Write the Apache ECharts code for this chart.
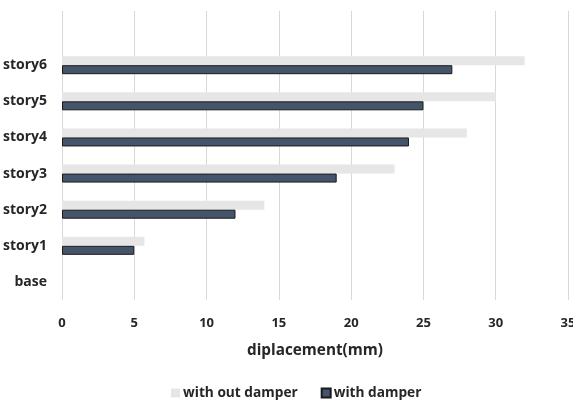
<!DOCTYPE html>
<html>
<head>
<meta charset="utf-8">
<script src="https://cdn.jsdelivr.net/npm/echarts@6/dist/echarts.min.js"></script>
<style>html,body{margin:0;padding:0;background:#fff}#c{width:573px;height:401px}</style>
</head>
<body>
<div id="c"></div>
<script>
var categories = ['base', 'story1', 'story2', 'story3', 'story4', 'story5', 'story6', ''];
var withOutDamper = [0, 5.7, 14, 23, 28, 30, 32, null];
var withDamper = [0, 5, 12, 19, 24, 25, 27, null];
var xTicks = [0, 5, 10, 15, 20, 25, 30, 35];

var font = 'Open Sans';
var txt = '#262626';
function hideZeroBorder(arr) {
  return arr.map(function (v) { return v === 0 ? {value: v, itemStyle: {borderWidth: 0}} : v; });
}
var chart = echarts.init(document.getElementById('c'), null, {renderer: 'canvas'});
chart.setOption({
  animation: false,
  grid: {left: 62, right: 5, top: 11, bottom: 101, containLabel: false, outerBoundsMode: 'none'},
  xAxis: {
    type: 'value', min: xTicks[0], max: xTicks[xTicks.length - 1], interval: 5,
    name: 'diplacement(mm)', nameLocation: 'middle', nameGap: 43,
    nameTextStyle: {fontFamily: font, fontWeight: 'bold', fontSize: 15.3, color: txt},
    axisLine: {show: false}, axisTick: {show: false},
    axisLabel: {fontFamily: font, fontWeight: 'bold', fontSize: 13, color: txt, margin: 17},
    splitLine: {show: true, lineStyle: {color: '#d9d9d9', width: 1}}
  },
  yAxis: {
    type: 'category', data: categories,
    axisLine: {show: false}, axisTick: {show: false},
    axisLabel: {fontFamily: font, fontWeight: 'bold', fontSize: 14, color: txt, margin: 15}
  },
  legend: {
    top: 381, left: 166, itemWidth: 9, itemHeight: 9, itemGap: 23,
    icon: 'rect',
    data: ['with out damper', 'with damper'],
    textStyle: {fontFamily: font, fontWeight: 'bold', fontSize: 13.7, color: txt, padding: [0, 0, 0, -2]}
  },
  series: [
    {
      name: 'with out damper', type: 'bar', data: withOutDamper, barWidth: 9, barGap: '0%',
      itemStyle: {color: '#E7E6E6'}
    },
    {
      name: 'with damper', type: 'bar', data: hideZeroBorder(withDamper), barWidth: 9, barGap: '0%',
      itemStyle: {color: '#44546A', borderColor: '#1a1a1a', borderWidth: 1}
    }
  ]
});
</script>
</body>
</html>
